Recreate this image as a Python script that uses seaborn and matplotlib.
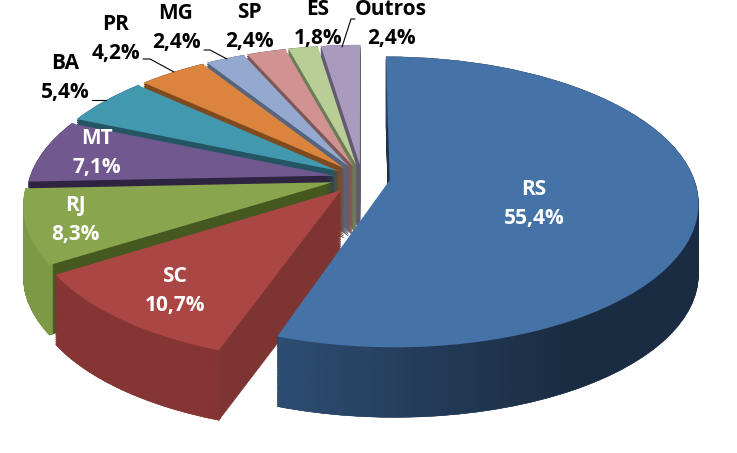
import matplotlib
matplotlib.use("Agg")
import matplotlib.pyplot as plt
from matplotlib.path import Path
from matplotlib.transforms import Transform, Affine2D
import numpy as np
import seaborn as sns

sns.set_theme(style="white")
plt.rcParams['font.family'] = ['Open Sans', 'DejaVu Sans']

states = ["RS", "SC", "RJ", "MT", "BA", "PR", "MG", "SP", "ES", "Outros"]
shares = [55.4, 10.7, 8.3, 7.1, 5.4, 4.2, 2.4, 2.4, 1.8, 2.4]
labels = ["55,4%", "10,7%", "8,3%", "7,1%", "5,4%", "4,2%", "2,4%", "2,4%", "1,8%", "2,4%"]
top_colors = ["#4572A7", "#AA4643", "#89A54E", "#71588F", "#4198AF",
              "#DB843D", "#93A9CF", "#D19392", "#B9CD96", "#A99BBD"]
inner_colors = ["#1C3048", "#7E3432", "#45581F", "#2E2340", "#235563",
                "#7E4A20", "#56647E", "#7E5857", "#6E7B58", "#625A70"]
outer_colors = ["#2E4D72", "#853634", "#7C9A45", "#2E2340", "#235563",
                "#7E4A20", "#56647E", "#7E5857", "#6E7B58", "#625A70"]
explode = [0.092, 0.11, 0.1, 0.095, 0.095, 0.095, 0.095, 0.095, 0.095, 0.095]


# tilted view of the pie, far side a bit smaller than near side
class Tilt(Transform):
    input_dims = 2
    output_dims = 2

    def transform_non_affine(self, xy):
        xy = np.asarray(xy, dtype=float)
        s = 1 / (1 + 0.15 * xy[:, 1])
        return np.column_stack([362 + 304 * xy[:, 0] * s,
                                178 - 304 * 0.465 * xy[:, 1] * s])


fig = plt.figure(figsize=(7.37, 4.53), dpi=100, facecolor="white")
ax = fig.add_axes([0, 0, 1, 1])

# stack the pie to fake the 3d depth, back slices first and RS last
depth = 70
steps = 40
rs_wall = []
for level in range(steps, -1, -1):
    colors = top_colors if level == 0 else inner_colors
    wedges, _ = ax.pie(shares, colors=colors, startangle=90, counterclock=False,
                       explode=explode, radius=1)
    shift = Affine2D().translate(0, depth * level / steps)
    for j, w in enumerate(wedges):
        w.set_linewidth(0.3 if level else 0)
        w.set_edgecolor(colors[j])
        w.set_transform(Tilt() + shift + ax.transData)
        base = (len(wedges) - j) * 100
        w.set_zorder(base if level == 0 else base - 50 - level)

    # outer rim gets its own lighter colour
    rings, _ = ax.pie(shares, colors=outer_colors, startangle=90, counterclock=False,
                      explode=explode, radius=1, wedgeprops=dict(width=0.012))
    for j, w in enumerate(rings):
        w.set_linewidth(0.3)
        w.set_edgecolor(outer_colors[j])
        w.set_transform(Tilt() + shift + ax.transData)
        w.set_zorder((len(rings) - j) * 100 - 1 - level * 0.01)
    rs_wall.append((rings[0].get_patch_transform() + Tilt() + shift).transform_path(rings[0].get_path()))

# RS wall gets darker to the right
shade = np.zeros((1, 256, 4))
shade[0, :, 3] = np.clip(np.linspace(0, 0.62, 256), 0, 0.42)
im = ax.imshow(shade, extent=[278, 700, 453, 0], aspect="auto", zorder=999.5)
im.set_clip_path(Path.make_compound_path(*rs_wall), ax.transData)

ax.set_aspect("auto")
ax.set_xlim(0, 737)
ax.set_ylim(453, 0)
ax.axis("off")

# leader lines
leaders = [([92, 106], [100, 100]),
           ([143, 150, 174], [59, 59, 72]),
           ([204, 210, 227], [50, 50, 59]),
           ([355, 351, 342], [19, 19, 47])]
for xs, ys in leaders:
    ax.plot(xs, ys, color="black", lw=0.8, zorder=2000)

label_pos = [(534, 204), (175, 291), (75, 220), (97, 153), (65, 78),
             (116, 39), (176, 28), (249, 27), (318, 24), (391, 24)]
for name, lab, (px, py) in zip(states, labels, label_pos):
    col = "white" if name in ("RS", "SC", "RJ", "MT") else "black"
    ax.text(px, py, name + "\n" + lab, color=col, fontsize=15, fontweight="bold",
            ha="center", va="center", linespacing=1.55, zorder=3000)

fig.savefig("out.png", dpi=100)
